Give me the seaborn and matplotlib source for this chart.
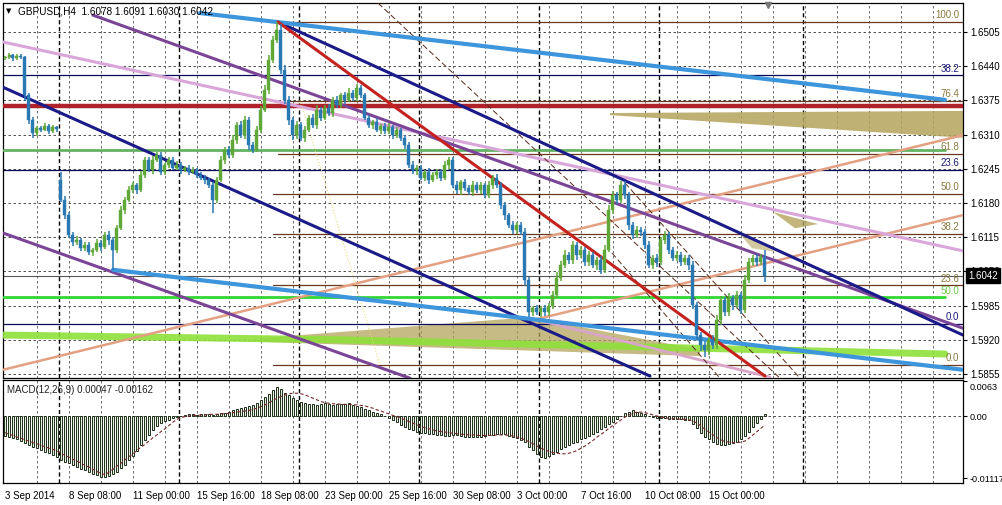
import numpy as np
import pandas as pd
import matplotlib
matplotlib.use("Agg")
import matplotlib.pyplot as plt
import seaborn as sns
from matplotlib.patches import Polygon
from matplotlib.transforms import ScaledTranslation

# ---------------- data ----------------
closes = [
    1.6457, 1.6461, 1.6455, 1.6459, 1.6457,
    1.6385, 1.6338, 1.6313,
    1.6322, 1.6319, 1.6326, 1.6317, 1.6324, 1.6321,
    1.6186, 1.6157, 1.6119, 1.6106, 1.6110, 1.6095, 1.6100, 1.6086, 1.6091, 1.6104, 1.6097, 1.6119, 1.6110, 1.6091,
    1.6133, 1.6167, 1.6186, 1.6205, 1.6214, 1.6205, 1.6233, 1.6262, 1.6243, 1.6262, 1.6271, 1.6239, 1.6252, 1.6262,
    1.6247, 1.6252, 1.6243, 1.6247, 1.6239, 1.6243, 1.6233, 1.6228, 1.6224, 1.6214, 1.6186, 1.6224, 1.6262, 1.6281,
    1.6271, 1.6300, 1.6328, 1.6309, 1.6338, 1.6290, 1.6281, 1.6319, 1.6357, 1.6395, 1.6452, 1.6490, 1.6509, 1.6433,
    1.6376, 1.6338, 1.6309, 1.6328, 1.6304, 1.6319, 1.6342, 1.6328, 1.6357, 1.6342, 1.6361, 1.6351, 1.6376, 1.6366,
    1.6385, 1.6376, 1.6390, 1.6380, 1.6399, 1.6385, 1.6342, 1.6328, 1.6334, 1.6319, 1.6326, 1.6317, 1.6324, 1.6309,
    1.6319, 1.6304, 1.6290, 1.6252, 1.6243, 1.6247, 1.6228, 1.6239, 1.6224, 1.6233, 1.6239, 1.6228, 1.6252, 1.6262,
    1.6214, 1.6205, 1.6220, 1.6209, 1.6201, 1.6214, 1.6205, 1.6214, 1.6195, 1.6214, 1.6228, 1.6214, 1.6176, 1.6157,
    1.6138, 1.6129, 1.6138, 1.6125, 1.6034, 1.5973, 1.5980, 1.5973, 1.5980, 1.5973, 1.5984, 1.6005, 1.6038, 1.6062,
    1.6081, 1.6072, 1.6100, 1.6081, 1.6091, 1.6068, 1.6081, 1.6062, 1.6072, 1.6053, 1.6091, 1.6167, 1.6195, 1.6186,
    1.6214, 1.6195, 1.6138, 1.6119, 1.6129, 1.6125, 1.6100, 1.6062, 1.6076, 1.6068, 1.6110, 1.6119, 1.6091, 1.6076,
    1.6081, 1.6068, 1.6076, 1.6062, 1.5986, 1.5929, 1.5910, 1.5901, 1.5920, 1.5910, 1.5958, 1.5996, 1.5973, 1.6000,
    1.5986, 1.6005, 1.5977, 1.6034, 1.6068, 1.6076, 1.6068, 1.6078, 1.6042,
]
first_open = 1.6455
gap_opens = {14: 1.6224}

upper_wick_pips = [
    3, 4, 3, 5, 4, 3, 4, 6, 5, 4,
    6, 4, 5, 3, 15, 8, 6, 5, 7, 4,
    6, 5, 4, 7, 5, 6, 8, 5, 6, 8,
    5, 7, 6, 4, 8, 6, 5, 7, 5, 6,
    4, 6, 5, 7, 5, 4, 6, 5, 4, 6,
    5, 4, 6, 5, 8, 6, 7, 9, 6, 8,
    7, 6, 5, 8, 7, 10, 9, 8, 15, 12,
    9, 7, 6, 8, 5, 7, 6, 8, 9, 6,
    5, 7, 6, 8, 5, 6, 9, 5, 7, 6,
    5, 6, 4, 7, 5, 6, 8, 5, 6, 4,
    6, 5, 7, 5, 6, 4, 7, 5, 6, 5,
    8, 6, 5, 7, 4, 6, 5, 7, 5, 6,
    4, 7, 6, 8, 5, 6, 4, 7, 5, 6,
    8, 6, 5, 7, 4, 6, 5, 8, 10, 7,
    9, 6, 8, 5, 7, 6, 8, 5, 6, 7,
    9, 10, 8, 6, 8, 7, 5, 6, 8, 5,
    6, 7, 5, 8, 6, 7, 5, 6, 8, 5,
    6, 5, 7, 6, 5, 8, 6, 9, 10, 8,
    6, 8, 5, 7, 6, 9, 8, 6, 7, 5,
    13,
]
lower_wick_pips = [
    4, 3, 5, 4, 3, 12, 8, 10, 5, 4,
    3, 5, 4, 6, 5, 7, 6, 8, 5, 6,
    7, 5, 6, 4, 8, 5, 9, 38, 6, 5,
    7, 5, 6, 8, 4, 6, 5, 7, 5, 6,
    5, 6, 4, 5, 7, 5, 6, 4, 6, 5,
    7, 6, 25, 6, 5, 7, 6, 5, 8, 6,
    7, 9, 6, 5, 6, 5, 7, 6, 5, 8,
    8, 10, 9, 7, 6, 8, 5, 6, 7, 6,
    5, 6, 7, 5, 6, 8, 5, 6, 7, 6,
    5, 6, 8, 5, 7, 6, 5, 8, 6, 7,
    8, 6, 7, 9, 5, 6, 8, 5, 7, 6,
    5, 7, 6, 8, 9, 6, 5, 7, 6, 8,
    6, 5, 7, 6, 8, 9, 6, 7, 8, 6,
    12, 10, 8, 6, 9, 7, 8, 6, 5, 7,
    6, 8, 7, 9, 6, 7, 8, 6, 9, 7,
    6, 5, 7, 8, 6, 7, 9, 8, 6, 7,
    7, 6, 8, 9, 5, 7, 8, 6, 7, 8,
    6, 9, 8, 10, 12, 14, 10, 8, 7, 9,
    8, 7, 9, 6, 8, 7, 6, 8, 7, 6,
    12,
]

# MACD values in units of 1e-4
macd_hist = [
    -36, -38, -40, -42, -45, -48, -52, -55, -58,
    -61, -64, -67, -70, -73, -79,
    -82, -85, -88, -92, -95, -98,
    -101, -104, -107, -110, -110, -108, -105,
    -100, -94, -88, -80, -72, -63,
    -52, -43, -34, -26, -18, -13, -9,
    -7, -4, -2, 0, 2, 3, 3,
    2, 3, 4, 3, 2, 4, 5,
    6, 8, 10, 12, 14, 16,
    18, 20, 24, 28, 34, 40,
    46, 52, 48, 42,
    38, 32, 28, 25, 24,
    22, 22, 20, 21, 23, 22, 20, 21, 22, 21, 23, 20, 18, 16, 13,
    10, 8, 6, 3, 0, -3, -7, -11, -16,
    -20, -23, -26, -28, -30, -31, -32,
    -33, -34, -35, -36, -36, -35, -35, -36, -37, -37, -38, -38, -37, -36, -35, -34, -33,
    -32, -33, -36, -38, -40, -43, -47,
    -55, -62, -68, -74, -76, -72,
    -68, -64, -60, -56, -52, -49, -46,
    -42, -39, -36, -32, -28, -24,
    -20, -15, -10, -5, 0, 5, 8,
    10, 8, 6, 3, 0, -2, -3,
    -4, -4, -5, -5, -6, -6, -7, -8,
    -14, -22, -30, -37, -42, -46, -50,
    -52, -52, -50, -48, -46, -42, -36,
    -28, -20, -12, -5, 4,
]
macd_signal = [
    -30, -33, -35, -38, -40, -43, -45, -48, -50, -53, -55, -58, -60, -63,
    -67, -71, -74, -78, -81, -85, -89, -92, -96, -100, -103, -106,
    -101, -96, -90, -85, -79, -73, -68, -62, -56, -51, -45, -39, -34, -28, -23, -17, -11, -6, -3, -1,
    0, 1, 1, 2, 2, 3, 3, 3, 4, 4, 5, 6, 7, 8, 9,
    10, 12, 14, 17, 20, 24, 28, 32, 35, 38, 40, 41, 41,
    40, 38, 35, 32, 29, 26, 24, 23, 22, 22, 21, 21, 21, 20, 20, 19, 18,
    16, 14, 11, 9, 6, 4, 1, -1, -4,
    -7, -10, -13, -16, -19, -21, -23, -25, -27, -28, -29, -30, -31, -32, -33, -33, -34, -34, -35, -35, -35, -35, -35, -34,
    -34, -34, -35, -36, -38, -40, -43, -46, -50, -54, -58, -61, -64,
    -66, -67, -68, -68, -67, -65, -62, -58, -54, -49, -44, -38, -33, -28, -22, -17, -12, -7, -2, 2,
    5, 7, 7, 6, 4, 2, 0, -2, -3, -4, -5, -5, -6, -6, -7, -9, -13, -18, -24, -29,
    -34, -39, -43, -46, -47, -48, -48, -47, -45, -40, -34, -28, -22, -16,
]

price_ticks = [1.6505, 1.6440, 1.6375, 1.6310, 1.6245, 1.6180, 1.6115, 1.6050, 1.5985, 1.5920, 1.5855]
time_labels = ["3 Sep 2014", "8 Sep 08:00", "11 Sep 00:00", "15 Sep 16:00", "18 Sep 08:00",
               "23 Sep 00:00", "25 Sep 16:00", "30 Sep 08:00", "3 Oct 00:00", "7 Oct 16:00",
               "10 Oct 08:00", "15 Oct 00:00"]
time_label_bars = [0, 16, 32, 48, 64, 80, 96, 112, 128, 144, 160, 176]
week_separator_bars = [13.5, 43.5, 73.5, 103.5, 133.5, 163.5, 199.5]
macd_ticks = [0.0063, 0.0, -0.01117]
macd_tick_labels = ["0.0063", "0.00", "-0.01117"]

# trend lines: (bar0, price0, bar1, price1)
blue_upper = (48.75, 1.6541, 235.0, 1.6376)
blue_lower = (27.0, 1.6053, 239.5, 1.5863)
navy_upper = (68.25, 1.6524, 239.5, 1.5929)
navy_lower = (-0.5, 1.6400, 161.25, 1.5851)
purple_upper = (22.0, 1.6537, 239.5, 1.5942)
purple_lower = (-0.5, 1.6123, 101.25, 1.5847)
pink_upper = (-0.5, 1.6486, 239.5, 1.6089)
pink_lower = (131.25, 1.5961, 191.25, 1.5849)
red_line = (68.25, 1.6524, 190.0, 1.5851)
salmon_1 = (-0.5, 1.5863, 239.5, 1.6309)
salmon_2 = (131.25, 1.5956, 239.5, 1.6157)
thin_lines = [(93.25, 1.6560, 193.75, 1.5847), (155.0, 1.6218, 198.75, 1.5847), (151.75, 1.6085, 178.75, 1.5847)]
yellow_line = (73.75, 1.6376, 93.75, 1.5872)
lime_bars = [-0.5, 83.75, 235.0]
lime_prices = [1.5929, 1.5920, 1.5893]

red_level = 1.6364
green_level = 1.6281
bright_green_level = 1.6001
bid_level = 1.6041
# fibonacci levels: (price, start bar, colour key, label)
fib_levels = [
    (1.6524, 68.25, "brown", "100.0"),
    (1.6423, -0.5, "navy", "38.2"),
    (1.6374, 70.75, "brown", "76.4"),
    (1.6273, 68.25, "brown", "61.8"),
    (1.6243, -0.5, "navy", "23.6"),
    (1.6197, 67.0, "brown", "50.0"),
    (1.6121, 67.0, "brown", "38.2"),
    (1.6024, 67.0, "brown", "23.6"),
    (1.5950, -0.5, "navy", "0.0"),
    (1.5872, 67.0, "brown", "0.0"),
]

khaki_top = [(151.25, 1.6351), (239.5, 1.6355), (239.5, 1.6304), (151.25, 1.6347)]
khaki_mid = [(63.75, 1.5923), (131.25, 1.5963), (173.75, 1.5901), (173.75, 1.5889), (63.75, 1.5916)]
khaki_small1 = [(192.0, 1.6163), (203.25, 1.6140), (197.5, 1.6132)]
khaki_small2 = [(183.25, 1.6125), (192.75, 1.6087), (186.75, 1.6094)]

assert len(closes) == len(upper_wick_pips) == len(lower_wick_pips) == len(macd_hist) == len(macd_signal)

# ---------------- style ----------------
sns.set_style("white")
plt.rcParams['font.family'] = ['Liberation Sans', 'DejaVu Sans']
plt.rcParams['font.size'] = 7

W, H = 1003, 505
fig = plt.figure(figsize=(W / 100, H / 100), dpi=100)
fig.patch.set_facecolor("white")
ax = fig.add_axes([3 / W, 1 - 378 / H, 960 / W, 375 / H])
axm = fig.add_axes([3 / W, 1 - 483 / H, 960 / W, 103 / H])

XMIN, XMAX = -0.5, 239.5
YMIN, YMAX = 1.58474, 1.65601
ax.set_xlim(XMIN, XMAX)
ax.set_ylim(YMIN, YMAX)
axm.set_xlim(XMIN, XMAX)
axm.set_ylim(-0.01206, 0.00648)

for a in (ax, axm):
    a.set_facecolor("white")
    for s in a.spines.values():
        s.set_color("black")
        s.set_linewidth(0.9)

dash = (0, (3, 3))
# grid
for p in price_ticks:
    ax.axhline(p, color="#333333", lw=0.6, ls=dash, zorder=1)
for b in range(8, 240, 8):
    for a in (ax, axm):
        a.axvline(b, color="#555555", lw=0.6, ls=dash, zorder=1)
for b in week_separator_bars:
    for a in (ax, axm):
        a.axvline(b, color="black", lw=1.0, ls=(0, (3, 2)), zorder=1)
axm.axhline(0.0, color="#333333", lw=0.6, ls=dash, zorder=1)

# fills
for poly, alpha in ((khaki_top, 0.85), (khaki_mid, 0.75), (khaki_small1, 0.8), (khaki_small2, 0.6)):
    ax.add_patch(Polygon(poly, closed=True, facecolor="#b4a45c", edgecolor="none", alpha=alpha, zorder=2))

# horizontal levels
cols = {"brown": "#6b3a1e", "navy": "#0a0a5a"}
for price, start, ck, lab in fib_levels:
    ax.plot([start, XMAX], [price, price], color=cols[ck], lw=0.9, zorder=2)
    ax.text(238.5, price + 0.0003, lab, color="#8a7a40" if ck == "brown" else "#1a1a7a",
            fontsize=7, ha="right", va="bottom", zorder=6)
ax.axhline(bid_level, color="#555555", lw=0.8, zorder=2)
ax.axhline(red_level, color="#b0222a", lw=3.2, zorder=3)
ax.plot([XMIN, 235], [green_level, green_level], color="#62b262", lw=2.0, zorder=3)
ax.plot([XMIN, 235], [bright_green_level, bright_green_level], color="#33d633", lw=2.0, zorder=3)
ax.text(238.5, bright_green_level + 0.0003, "50.0", color="#66cc44", fontsize=7, ha="right", va="bottom", zorder=6)

# lime band
lime_df = pd.DataFrame({"bar": lime_bars, "price": lime_prices})
sns.lineplot(data=lime_df, x="bar", y="price", ax=ax, color="#8ee03a", lw=5, alpha=0.9, zorder=3)


def seg(line, **kw):
    b0, p0, b1, p1 = line
    df = pd.DataFrame({"bar": [b0, b1], "price": [p0, p1]})
    sns.lineplot(data=df, x="bar", y="price", ax=ax, **kw)


seg(salmon_1, color="#e3a082", lw=1.8, zorder=4)
seg(salmon_2, color="#e3a082", lw=1.8, zorder=4)
seg(pink_upper, color="#d9a6d9", lw=2.2, zorder=4)
seg(pink_lower, color="#d9a6c9", lw=2.0, zorder=4)
seg(yellow_line, color="#e6dc7a", lw=0.8, ls=":", zorder=4)
for tl in thin_lines:
    seg(tl, color="#5a2a1a", lw=0.7, ls=(0, (6, 3)), zorder=4)
seg(purple_upper, color="#7b4597", lw=2.2, zorder=5)
seg(purple_lower, color="#7b4597", lw=2.2, zorder=5)
seg(navy_upper, color="#1a1a88", lw=2.2, zorder=5)
seg(navy_lower, color="#1a1a88", lw=2.2, zorder=5)
seg(blue_upper, color="#3d95dc", lw=3.0, zorder=5)
seg(blue_lower, color="#3d95dc", lw=3.0, zorder=5)
seg(red_line, color="#c4221e", lw=2.2, zorder=5)

# candles
c = np.array(closes)
o = np.array([first_open] + closes[:-1])
for k, v in gap_opens.items():
    o[k] = v
hi = np.maximum(o, c) + np.array(upper_wick_pips) * 1e-4
lo = np.minimum(o, c) - np.array(lower_wick_pips) * 1e-4
x = np.arange(len(c))
up = c >= o
colors = np.where(up, "#5fa838", "#2a78b2")
ax.vlines(x, lo, hi, colors=colors, lw=1.1, zorder=6)
body_h = np.maximum(np.abs(c - o), 0.00008)
ax.bar(x, body_h, bottom=np.minimum(o, c), width=0.75, color=colors, edgecolor=colors, lw=0.3, zorder=7)

ax.set_xlabel("")
ax.set_ylabel("")
ax.set_xticks([])
ax.yaxis.tick_right()
ax.set_yticks(price_ticks)
ax.set_yticklabels([f"{p:.4f}" for p in price_ticks])
ax.tick_params(axis="y", length=3, width=0.8, pad=2, labelsize=7, colors="black")

# current price box
ax.text(1.0055, (closes[-1] - YMIN) / (YMAX - YMIN), f"{closes[-1]:.4f}",
        transform=ax.transAxes, ha="left", va="center", color="white", fontsize=7, zorder=10,
        bbox=dict(boxstyle="square,pad=0.25", fc="black", ec="black"), clip_on=False)

# title
ax.text(0.0035, 0.985, "\u25BC", transform=ax.transAxes, fontsize=5, ha="left", va="top",
        family=["DejaVu Sans"], color="black", zorder=10)
ax.text(0.016, 0.99, "GBPUSD,H4  1.6078 1.6091 1.6030 1.6042", transform=ax.transAxes,
        fontsize=7.2, ha="left", va="top", color="black", zorder=10)
# shift marker
ax.plot([190.75], [1.6556], marker="v", color="#777777", ms=5, clip_on=False, zorder=10)

# MACD
axm.bar(x, np.array(macd_hist) * 1e-4, width=0.45, color="#e4f2dc", edgecolor="#1e2e1a", lw=0.7, zorder=3)
sig_df = pd.DataFrame({"bar": x, "signal": np.array(macd_signal) * 1e-4})
sns.lineplot(data=sig_df, x="bar", y="signal", ax=axm, color="#7a2a2a", lw=0.8, ls=(0, (3, 2)), zorder=4)
axm.set_xlabel("")
axm.set_ylabel("")
axm.yaxis.tick_right()
axm.set_yticks(macd_ticks)
axm.set_yticklabels(macd_tick_labels)
axm.tick_params(axis="y", length=3, width=0.8, pad=1.5, labelsize=6.6, colors="black")
ylabs = axm.get_yticklabels()
ylabs[0].set_transform(ylabs[0].get_transform() + ScaledTranslation(0, -4 / 72, fig.dpi_scale_trans))
axm.set_xticks(time_label_bars)
axm.set_xticklabels(time_labels, ha="left")
axm.tick_params(axis="x", length=3, width=0.8, pad=3, labelsize=7, colors="black")
axm.text(0.004, 0.95, "MACD(12,26,9) 0.00047 -0.00162", transform=axm.transAxes,
         fontsize=7, ha="left", va="top", color="#222222", zorder=10)

fig.savefig("out.png", dpi=100, facecolor="white")
